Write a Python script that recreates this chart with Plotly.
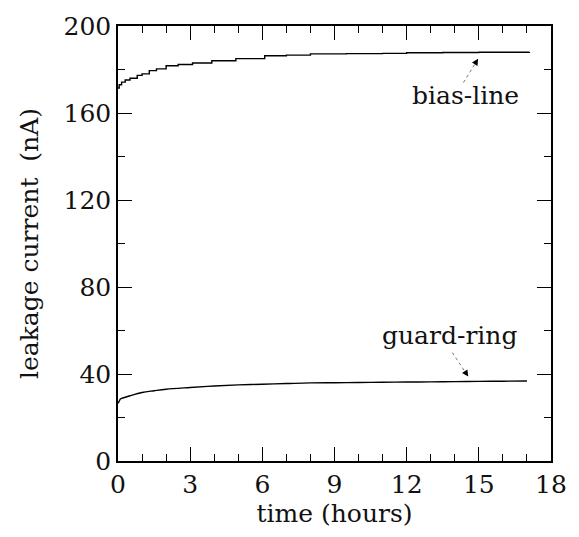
import plotly.graph_objects as go

t_bias = [0, 0.05, 0.15, 0.3, 0.5, 0.8, 1.0, 1.3, 1.6, 2.0, 2.5, 3.1, 3.9, 4.9, 6.1, 7.0, 8.0, 9.5, 11.0, 12.0, 13.5, 15.0, 16.0, 17.1]
i_bias = [171.5, 173.0, 174.2, 175.2, 176.0, 177.3, 178.0, 179.5, 180.3, 181.7, 182.3, 183.0, 184.0, 185.0, 186.3, 186.6, 187.2, 187.3, 187.4, 187.7, 187.8, 187.9, 187.9, 188.0]

t_guard = [0, 0.05, 0.1, 0.3, 0.5, 1.0, 1.5, 2.0, 3.0, 4.0, 5.0, 6.0, 7.0, 8.0, 9.0, 10.0, 11.0, 12.0, 13.0, 14.0, 15.0, 16.0, 17.0]
i_guard = [26.5, 27.5, 28.5, 29.3, 30.0, 31.5, 32.3, 33.0, 33.8, 34.5, 35.0, 35.3, 35.6, 35.9, 36.0, 36.1, 36.2, 36.3, 36.4, 36.5, 36.6, 36.7, 36.8]

x_ticks = [0, 3, 6, 9, 12, 15, 18]
y_ticks = [0, 40, 80, 120, 160, 200]

labels = ["bias-line", "guard-ring"]
label_pos = [(14.45, 168.0), (13.8, 57.5)]
arrow_tail = [(14.36, 174.0), (13.9, 49.8)]
arrow_head = [(14.97, 184.9), (14.56, 38.8)]

fig = go.Figure()
fig.add_trace(go.Scatter(x=t_bias, y=i_bias, mode="lines", line=dict(color="black", width=1.4, shape="hv"), showlegend=False))
fig.add_trace(go.Scatter(x=t_guard, y=i_guard, mode="lines", line=dict(color="black", width=1.4, shape="spline"), showlegend=False))

font = dict(family="DejaVu Serif", size=25, color="#111")

for lab, (lx, ly), (tx, ty), (hx, hy) in zip(labels, label_pos, arrow_tail, arrow_head):
    fig.add_shape(type="line", x0=tx, y0=ty, x1=hx, y1=hy, xref="x", yref="y",
                  line=dict(color="#777", width=1, dash="dot"))
    fig.add_annotation(x=hx, y=hy, ax=hx - (hx - tx) * 0.2, ay=hy - (hy - ty) * 0.2,
                       xref="x", yref="y", axref="x", ayref="y",
                       showarrow=True, arrowhead=2, arrowsize=1.6, arrowwidth=0.8,
                       arrowcolor="black", text="")
    fig.add_annotation(x=lx, y=ly, text=lab, showarrow=False,
                       font=dict(family="DejaVu Serif", size=25, color="#111"))

axis_common = dict(showline=True, linecolor="black", linewidth=1.5, mirror="ticks", ticks="inside",
                   tickcolor="black", tickwidth=1.2, showgrid=False, zeroline=False, tickfont=font)

fig.update_xaxes(range=[0, 18], tickvals=x_ticks, ticklen=14,
                 minor=dict(dtick=1, ticks="inside", ticklen=7, tickcolor="black", tickwidth=1),
                 title=dict(text="time (hours)", font=font, standoff=7), **axis_common)
fig.update_yaxes(range=[0, 200], tickvals=y_ticks, ticklen=14,
                 minor=dict(dtick=20, ticks="inside", ticklen=7, tickcolor="black", tickwidth=1),
                 title=dict(text="leakage current  (nA)", font=font, standoff=18), **axis_common)

fig.update_layout(width=579, height=537, margin=dict(l=118, r=21, t=23, b=76),
                  plot_bgcolor="white", paper_bgcolor="white")

fig.write_html("out.html", config={"displayModeBar": False},
               post_script="document.body.style.margin='0';")
